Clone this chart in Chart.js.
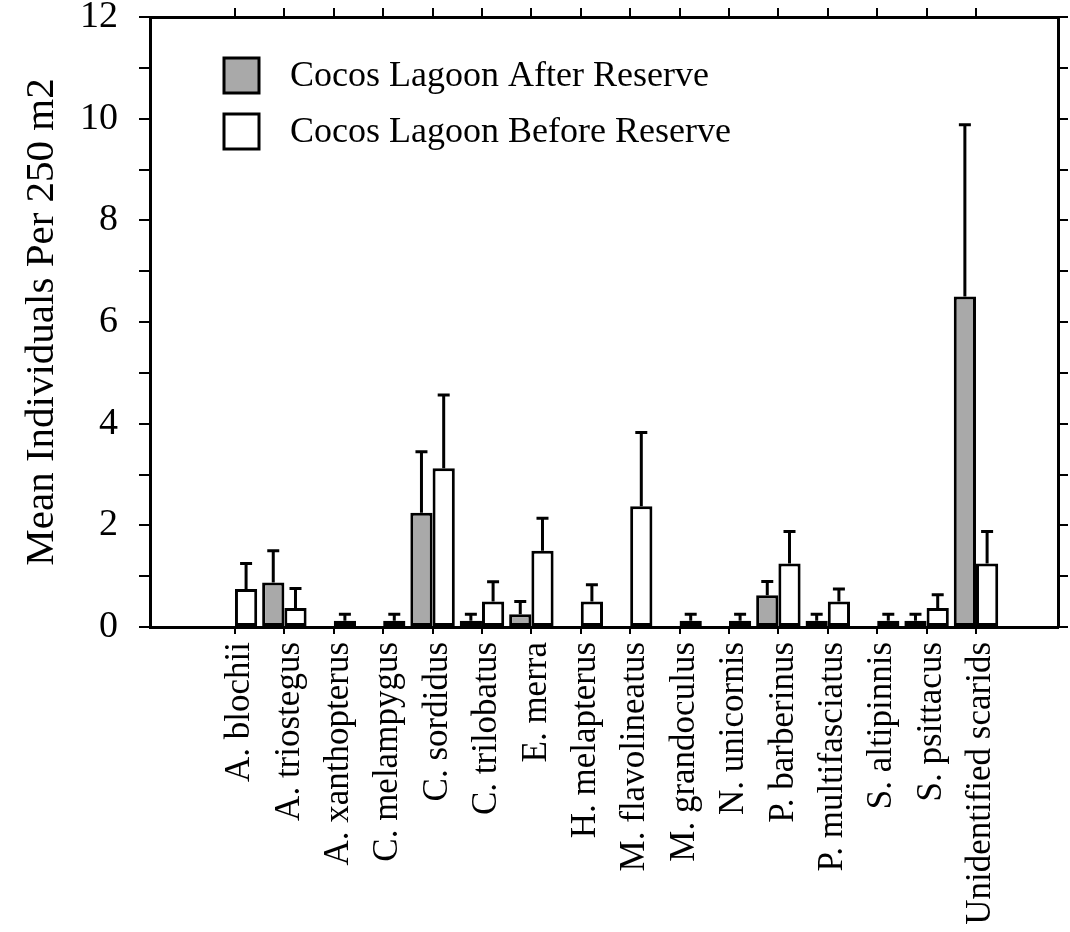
<!DOCTYPE html>
<html>
<head>
<meta charset="utf-8">
<script src="https://cdn.jsdelivr.net/npm/chart.js@4.4.1/dist/chart.umd.min.js"></script>
<style>
  html, body { margin: 0; padding: 0; background: #fff; }
  #wrap { width: 1070px; height: 932px; }
</style>
</head>
<body>
<div id="wrap"><canvas id="fishChart" width="1070" height="932"></canvas></div>
<script>
const species = ['A. blochii', 'A. triostegus', 'A. xanthopterus', 'C. melampygus', 'C. sordidus',
    'C. trilobatus', 'E. merra', 'H. melapterus', 'M. flavolineatus', 'M. grandoculus',
    'N. unicornis', 'P. barberinus', 'P. multifasciatus', 'S. altipinnis', 'S. psittacus',
    'Unidentified scarids'];

const afterMean = [null, 0.875, null, null, 2.25, 0.125, 0.25, null, null, null, null, 0.625, 0.125, null, 0.125, 6.5];
const afterErr = [null, 0.625, null, null, 1.2, 0.125, 0.25, null, null, null, null, 0.27, 0.125, null, 0.125, 3.38];

const beforeMean = [0.75, 0.375, 0.125, 0.125, 3.125, 0.5, 1.5, 0.5, 2.375, 0.125, 0.125, 1.25, 0.5, 0.125, 0.375, 1.25];
const beforeErr = [0.5, 0.38, 0.125, 0.125, 1.44, 0.39, 0.64, 0.33, 1.45, 0.125, 0.125, 0.63, 0.25, 0.125, 0.26, 0.63];

const yTicks = [0, 2, 4, 6, 8, 10, 12];

const FONT = "'Liberation Serif', 'Times New Roman', serif";
const GRAY = '#a9a9a9';

const toPoints = arr => arr.map((v, i) => ({ x: i, y: v }));

const errorBars = {
    id: 'errorBars',
    afterDatasetsDraw(chart) {
        const ctx = chart.ctx;
        const yScale = chart.scales.y;
        ctx.save();
        ctx.strokeStyle = '#000';
        ctx.lineWidth = 3;
        chart.data.datasets.forEach((ds, di) => {
            const meta = chart.getDatasetMeta(di);
            meta.data.forEach((bar, i) => {
                const v = ds.data[i].y;
                const e = ds.errors[i];
                if (v == null || e == null) return;
                const yTop = yScale.getPixelForValue(v + e);
                ctx.beginPath();
                ctx.moveTo(bar.x, bar.y);
                ctx.lineTo(bar.x, yTop);
                ctx.moveTo(bar.x - 6, yTop);
                ctx.lineTo(bar.x + 6, yTop);
                ctx.stroke();
            });
        });
        ctx.restore();
    }
};

const boxLegend = {
    id: 'boxLegend',
    afterDraw(chart) {
        const ctx = chart.ctx;
        ctx.save();
        chart.data.datasets.forEach((ds, i) => {
            const x = 224, y = 58 + i * 56, s = 35;
            ctx.fillStyle = ds.backgroundColor;
            ctx.fillRect(x, y, s, s);
            ctx.lineWidth = 3;
            ctx.strokeStyle = '#000';
            ctx.strokeRect(x, y, s, s);
            ctx.fillStyle = '#000';
            ctx.font = '36px ' + FONT;
            ctx.textBaseline = 'middle';
            ctx.fillText(ds.label, 290, y + s / 2 + 1);
        });
        ctx.restore();
    }
};

const frameAxis = (extra) => Object.assign({
    type: 'linear',
    offset: false,
    border: { display: true, color: '#000', width: 3 }
}, extra);

const catTicks = scale => {
    scale.ticks = species.map((s, i) => ({ value: i }));
};

const noPad = s => {
    s.paddingTop = 0;
    s.paddingBottom = 0;
};

new Chart(document.getElementById('fishChart'), {
    type: 'bar',
    data: {
        datasets: [
            {
                label: 'Cocos Lagoon After Reserve',
                data: toPoints(afterMean),
                errors: afterErr,
                backgroundColor: GRAY,
                borderColor: '#000',
                borderWidth: 3,
                borderSkipped: false
            },
            {
                label: 'Cocos Lagoon Before Reserve',
                data: toPoints(beforeMean),
                errors: beforeErr,
                backgroundColor: '#ffffff',
                borderColor: '#000',
                borderWidth: 3,
                borderSkipped: false
            }
        ]
    },
    options: {
        responsive: false,
        animation: false,
        layout: { padding: 0 },
        categoryPercentage: 0.9,
        barPercentage: 1.0,
        plugins: {
            legend: { display: false },
            tooltip: { enabled: false }
        },
        scales: {
            x: frameAxis({
                position: 'bottom',
                min: -1.72,
                max: 16.66,
                afterBuildTicks: catTicks,
                afterFit: s => { s.height = 305; s.paddingLeft = 0; s.paddingRight = 0; },
                grid: { drawOnChartArea: false, offset: false, color: '#000', lineWidth: 2, tickLength: 7 },
                ticks: {
                    autoSkip: false,
                    minRotation: 90,
                    maxRotation: 90,
                    padding: 8,
                    labelOffset: 5,
                    color: '#000',
                    font: { family: FONT, size: 35 },
                    callback: v => species[Math.round(v)]
                }
            }),
            x2: frameAxis({
                position: 'top',
                min: -1.72,
                max: 16.66,
                afterBuildTicks: catTicks,
                afterFit: s => { s.height = 17; s.paddingLeft = 0; s.paddingRight = 0; },
                grid: { drawOnChartArea: false, offset: false, color: '#000', lineWidth: 2, tickLength: 9 },
                ticks: { display: false }
            }),
            y: frameAxis({
                position: 'left',
                min: 0,
                max: 12,
                afterFit: s => { s.width = 150; noPad(s); },
                grid: { drawOnChartArea: false, color: '#000', lineWidth: 2, tickLength: 11 },
                ticks: {
                    stepSize: 1,
                    padding: 21,
                    color: '#000',
                    font: { family: FONT, size: 38 },
                    callback: v => yTicks.includes(v) ? String(v) : ''
                },
                title: {
                    display: true,
                    text: 'Mean Individuals Per 250 m2',
                    color: '#000',
                    font: { family: FONT, size: 41 },
                    padding: { top: 18, bottom: 0 }
                }
            }),
            y2: frameAxis({
                position: 'right',
                min: 0,
                max: 12,
                afterFit: s => { s.width = 12; noPad(s); },
                grid: { drawOnChartArea: false, color: '#000', lineWidth: 2, tickLength: 10 },
                ticks: { stepSize: 1, display: false }
            })
        }
    },
    plugins: [errorBars, boxLegend]
});
</script>
</body>
</html>
